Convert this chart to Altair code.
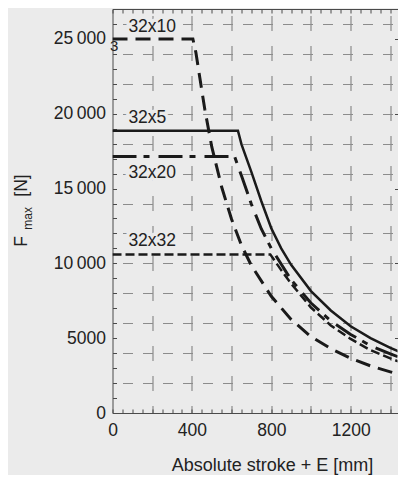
import altair as alt
import pandas as pd

# ---- data ----
x_32x5 = [0, 632, 650, 700, 750, 800, 850, 900, 1000, 1100, 1200, 1300, 1400, 1470]
y_32x5 = [18870, 18870, 17950, 16100, 14150, 12350, 11000, 9900, 8150, 6850, 5800, 5000, 4350, 3950]

x_32x10 = [0, 405, 420, 440, 465, 500, 550, 600, 650, 700, 800, 900, 1000, 1100, 1200, 1300, 1400, 1470]
y_32x10 = [25000, 25000, 24100, 22400, 20300, 17800, 15100, 12950, 11200, 9850, 7800, 6250, 5100, 4300, 3650, 3150, 2750, 2480]

x_32x20 = [0, 615, 650, 700, 750, 800, 900, 1000, 1100, 1200, 1300, 1400, 1470]
y_32x20 = [17150, 17150, 15850, 13950, 12300, 11000, 8900, 7350, 6150, 5250, 4500, 3950, 3600]

x_32x32 = [0, 795, 850, 900, 1000, 1100, 1200, 1300, 1400, 1470]
y_32x32 = [10600, 10600, 9550, 8650, 7050, 5850, 4950, 4200, 3650, 3300]

label_text = ["32x10", "32x5", "32x20", "32x32"]
label_x = [80, 80, 80, 80]
label_y = [25820, 19700, 16030, 11520]

stray_text = ["3"]
stray_x = [8]
stray_y = [24500]

x_label_values = [0, 400, 800, 1200]
x_grid_values = [200, 400, 600, 800, 1000, 1200, 1400]
x_minor_values = list(range(0, 1436, 50))
y_label_values = [0, 5000, 10000, 15000, 20000, 25000]
y_grid_values = list(range(2000, 27000, 2000))
y_minor_values = list(range(0, 27001, 1000))

X_MAX = 1436
Y_MAX = 27000
W = 285
H = 404
BG = "#ebebeb"
INK = "#1a1a1a"
AXC = "#4a4a4a"
GRIDC = "#8c8c8c"
FONT = "Liberation Sans"

xs = alt.Scale(domain=[0, X_MAX], nice=False, zero=False)
ys = alt.Scale(domain=[0, Y_MAX], nice=False, zero=False)

main_x = alt.Axis(orient="bottom", values=x_label_values, grid=False, ticks=False,
                  domain=True, domainColor=AXC, labelPadding=8, labelFlush=False,
                  format="d",
                  labelFontSize=17.5, labelColor="#222222", labelFont=FONT,
                  title="Absolute stroke + E [mm]", titleX=159.5, titleY=57,
                  titleBaseline="alphabetic", titleAlign="center", titleAngle=0,
                  titleFontWeight="normal", titleFontSize=18, titleFont=FONT,
                  titleColor="#222222")
main_y = alt.Axis(orient="left", values=y_label_values, grid=False, ticks=False,
                  domain=True, domainColor=AXC, labelPadding=7, labelFlush=False,
                  labelFontSize=17.5, labelColor="#222222", labelFont=FONT,
                  labelExpr="datum.value >= 10000 ? format(datum.value / 1000, 'd') + '\u2009000' : format(datum.value, 'd')",
                  title=None)
grid_x = alt.Axis(orient="bottom", values=x_grid_values, grid=True, gridDash=[15, 15],
                  gridDashOffset=23.4, gridColor=GRIDC, gridWidth=1.2, labels=False,
                  ticks=False, domain=False, title=None)
grid_y = alt.Axis(orient="left", values=y_grid_values, grid=True, gridDash=[10, 10],
                  gridDashOffset=10, gridColor=GRIDC, gridWidth=1.2, labels=False,
                  ticks=False, domain=False, title=None)
inner_bottom = alt.Axis(orient="top", offset=-H, values=x_minor_values, ticks=True,
                        tickSize=4, tickColor=AXC, labels=False, domain=False,
                        grid=False, title=None)
inner_left = alt.Axis(orient="right", offset=-W, values=y_minor_values, ticks=True,
                      tickSize=4, tickColor=AXC, labels=False, domain=False,
                      grid=False, title=None)
top_axis = alt.Axis(orient="bottom", offset=-H, values=x_minor_values, ticks=True,
                    tickSize=4, tickColor=AXC, labels=False, domain=True,
                    domainColor=AXC, grid=False, title=None)
right_ticks = alt.Axis(orient="left", offset=-W, values=y_label_values[1:], ticks=True,
                       tickSize=3, tickColor=AXC, labels=False, domain=False,
                       grid=False, title=None)


def line_layer(xv, yv, width, xaxis, yaxis, dash=None):
    df = pd.DataFrame({"x": xv, "y": yv})
    kw = dict(color=INK, strokeWidth=width, clip=True)
    if dash:
        kw["strokeDash"] = dash
    return alt.Chart(df).mark_line(**kw).encode(
        x=alt.X("x:Q", scale=xs, axis=xaxis),
        y=alt.Y("y:Q", scale=ys, axis=yaxis),
    )


l5 = line_layer(x_32x5, y_32x5, 2.5, main_x, main_y)
l10 = line_layer(x_32x10, y_32x10, 3, grid_x, grid_y, [15, 8])
l20 = line_layer(x_32x20, y_32x20, 3, inner_bottom, inner_left, [24, 7, 6, 9])
l32 = line_layer(x_32x32, y_32x32, 2.5, top_axis, right_ticks, [9, 4])

lab_df = pd.DataFrame({"x": label_x, "y": label_y, "t": label_text})
knock = alt.Chart(lab_df).mark_text(
    align="left", baseline="middle", fontSize=17.5, font=FONT,
    fill=BG, stroke=BG, strokeWidth=7, strokeJoin="round"
).encode(
    x=alt.X("x:Q", scale=xs, axis=None),
    y=alt.Y("y:Q", scale=ys, axis=None),
    text="t:N",
)
labels = alt.Chart(lab_df).mark_text(
    align="left", baseline="middle", fontSize=17.5, font=FONT, color="#222222"
).encode(
    x=alt.X("x:Q", scale=xs, axis=None),
    y=alt.Y("y:Q", scale=ys, axis=None),
    text="t:N",
)

stray_df = pd.DataFrame({"x": stray_x, "y": stray_y, "t": stray_text})
stray = alt.Chart(stray_df).mark_text(
    align="center", baseline="middle", fontSize=15, font=FONT, color="#222222"
).encode(
    x=alt.X("x:Q", scale=xs, axis=None),
    y=alt.Y("y:Q", scale=ys, axis=None),
    text="t:N",
)

one = pd.DataFrame({"k": [0]})
t_f = alt.Chart(one).mark_text(text="F", angle=270, align="left", baseline="alphabetic",
                               fontSize=17.5, font=FONT, color="#222222").encode(
    x=alt.value(-85.5), y=alt.value(237.7))
t_max = alt.Chart(one).mark_text(text="max", angle=270, align="left", baseline="alphabetic",
                                 fontSize=12, font=FONT, color="#222222").encode(
    x=alt.value(-80.5), y=alt.value(220.7))
t_n = alt.Chart(one).mark_text(text="[N]", angle=270, align="left", baseline="alphabetic",
                               fontSize=17.5, font=FONT, color="#222222").encode(
    x=alt.value(-85.5), y=alt.value(187.7))

chart = alt.layer(
    l5, l10, l20, l32, knock, labels, stray, t_f, t_max, t_n
).resolve_scale(
    x="shared", y="shared"
).resolve_axis(
    x="independent", y="independent"
).properties(
    width=W, height=H,
    padding={"left": 104.5, "top": 1, "right": 0, "bottom": 62},
    autosize=alt.AutoSizeParams(type="none"),
    background=BG,
).configure_view(
    strokeWidth=0
).configure_axis(
    labelFont=FONT, titleFont=FONT
)

chart.save("out.html", embed_options={"renderer": "svg", "actions": False})
